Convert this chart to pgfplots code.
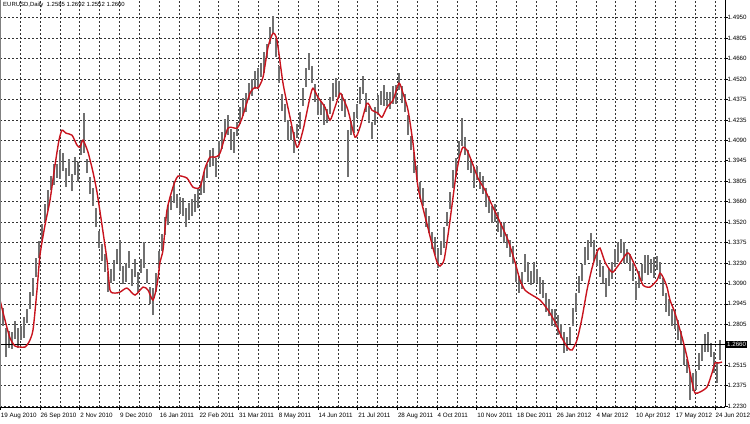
\documentclass[border=0pt]{standalone}
\usepackage{pgfplots}
\pgfplotsset{compat=1.18}
\usepackage{pgfplotstable}
\usepackage{fontspec}
\setmainfont{Liberation Sans}
\definecolor{barcol}{RGB}{112,112,112}
\definecolor{macol}{RGB}{200,20,30}
\pgfplotstableread{
x lo hi
0 1.2874 1.2993
3 1.2790 1.2916
6 1.2573 1.2776
9 1.2636 1.2755
12 1.2629 1.2748
15 1.2699 1.2825
18 1.2636 1.2776
21 1.2692 1.2790
24 1.2706 1.2853
27 1.2811 1.2909
30 1.2909 1.3028
33 1.3000 1.3126
36 1.3133 1.3266
39 1.3266 1.3385
42 1.3385 1.3504
45 1.3518 1.3644
48 1.3602 1.3742
51 1.3742 1.3840
54 1.3777 1.3924
57 1.3826 1.3924
60 1.3819 1.4022
63 1.3875 1.4001
66 1.3763 1.3896
69 1.3840 1.3959
72 1.3735 1.3854
75 1.3847 1.3973
78 1.3798 1.3938
81 1.3987 1.4085
84 1.4001 1.4281
87 1.3861 1.3959
90 1.3714 1.3833
93 1.3630 1.3756
96 1.3483 1.3616
99 1.3336 1.3455
102 1.3245 1.3364
105 1.3168 1.3294
108 1.3028 1.3168
111 1.3091 1.3189
114 1.3105 1.3252
117 1.3231 1.3329
120 1.3175 1.3392
123 1.3084 1.3210
126 1.3098 1.3231
129 1.3196 1.3315
132 1.3070 1.3189
135 1.3133 1.3259
138 1.3028 1.3168
141 1.3161 1.3259
144 1.3196 1.3378
147 1.3091 1.3189
150 1.2944 1.3063
153 1.2867 1.3056
156 1.3028 1.3161
159 1.3196 1.3315
162 1.3315 1.3434
165 1.3427 1.3553
168 1.3497 1.3637
171 1.3602 1.3700
174 1.3651 1.3798
177 1.3616 1.3714
180 1.3574 1.3693
183 1.3560 1.3686
186 1.3483 1.3616
189 1.3532 1.3651
192 1.3560 1.3679
195 1.3588 1.3714
198 1.3616 1.3756
201 1.3707 1.3805
204 1.3721 1.3868
207 1.3826 1.3924
210 1.3903 1.4022
213 1.3910 1.4036
216 1.3833 1.3966
219 1.3966 1.4085
222 1.4029 1.4148
225 1.4113 1.4239
228 1.4127 1.4267
231 1.4022 1.4169
234 1.4001 1.4148
237 1.4120 1.4218
240 1.4204 1.4323
243 1.4260 1.4386
246 1.4288 1.4421
249 1.4372 1.4491
252 1.4400 1.4519
255 1.4449 1.4575
258 1.4456 1.4596
261 1.4533 1.4631
264 1.4561 1.4708
267 1.4666 1.4764
270 1.4764 1.4883
273 1.4834 1.4960
276 1.4673 1.4806
279 1.4491 1.4610
282 1.4295 1.4414
285 1.4218 1.4344
288 1.4092 1.4232
291 1.4092 1.4190
294 1.4001 1.4148
297 1.4106 1.4204
300 1.4169 1.4288
303 1.4330 1.4456
306 1.4463 1.4596
309 1.4582 1.4701
312 1.4491 1.4610
315 1.4358 1.4484
318 1.4267 1.4407
321 1.4267 1.4365
324 1.4197 1.4344
327 1.4211 1.4309
330 1.4274 1.4393
333 1.4365 1.4491
336 1.4393 1.4526
339 1.4386 1.4505
342 1.4295 1.4414
345 1.4253 1.4379
348 1.3833 1.4162
351 1.4127 1.4225
354 1.4141 1.4288
357 1.4246 1.4344
360 1.4344 1.4463
363 1.4414 1.4540
366 1.4288 1.4421
369 1.4211 1.4330
372 1.4099 1.4218
375 1.4197 1.4323
378 1.4267 1.4407
381 1.4337 1.4435
384 1.4330 1.4477
387 1.4330 1.4428
390 1.4309 1.4428
393 1.4344 1.4470
396 1.4344 1.4477
399 1.4442 1.4561
402 1.4351 1.4470
405 1.4288 1.4414
408 1.4127 1.4267
411 1.4022 1.4120
414 1.3861 1.4008
417 1.3812 1.3910
420 1.3679 1.3798
423 1.3630 1.3756
426 1.3483 1.3616
429 1.3441 1.3560
432 1.3329 1.3448
435 1.3287 1.3413
438 1.3196 1.3336
441 1.3287 1.3385
444 1.3336 1.3483
447 1.3490 1.3588
450 1.3609 1.3728
453 1.3756 1.3882
456 1.3833 1.3966
459 1.3966 1.4085
462 1.4050 1.4246
465 1.3987 1.4113
468 1.3882 1.4022
471 1.3861 1.3959
474 1.3756 1.3903
477 1.3812 1.3910
480 1.3749 1.3868
483 1.3714 1.3840
486 1.3623 1.3756
489 1.3581 1.3700
492 1.3511 1.3630
495 1.3518 1.3644
498 1.3448 1.3588
501 1.3413 1.3511
504 1.3371 1.3518
507 1.3336 1.3434
510 1.3273 1.3392
513 1.3224 1.3350
516 1.3098 1.3231
519 1.3021 1.3140
522 1.3049 1.3168
525 1.3168 1.3294
528 1.3098 1.3238
531 1.3077 1.3175
534 1.3091 1.3238
537 1.3091 1.3189
540 1.3014 1.3133
543 1.2986 1.3112
546 1.2888 1.3021
549 1.2860 1.2979
552 1.2790 1.2909
555 1.2783 1.2909
558 1.2727 1.2867
561 1.2706 1.2804
564 1.2601 1.2748
567 1.2615 1.2713
570 1.2664 1.2783
573 1.2790 1.2916
576 1.2888 1.3021
579 1.3021 1.3140
582 1.3105 1.3224
585 1.3217 1.3343
588 1.3252 1.3392
591 1.3343 1.3441
594 1.3245 1.3392
597 1.3210 1.3308
600 1.3133 1.3252
603 1.3084 1.3210
606 1.2993 1.3126
609 1.3070 1.3189
612 1.3119 1.3238
615 1.3203 1.3329
618 1.3238 1.3378
621 1.3301 1.3399
624 1.3231 1.3378
627 1.3231 1.3329
630 1.3175 1.3294
633 1.3105 1.3231
636 1.2972 1.3105
639 1.3056 1.3175
642 1.3105 1.3224
645 1.3161 1.3287
648 1.3147 1.3287
651 1.3161 1.3259
654 1.3126 1.3273
657 1.3182 1.3280
660 1.3119 1.3238
663 1.3000 1.3126
666 1.2888 1.3021
669 1.2860 1.2979
672 1.2790 1.2909
675 1.2769 1.2895
678 1.2692 1.2832
681 1.2657 1.2755
684 1.2517 1.2664
687 1.2461 1.2559
690 1.2272 1.2468
693 1.2335 1.2461
696 1.2342 1.2475
699 1.2482 1.2601
702 1.2545 1.2664
705 1.2608 1.2734
708 1.2608 1.2748
711 1.2573 1.2671
714 1.2461 1.2608
717 1.2391 1.2538
720 1.2552 1.2692
}\bars
\pgfplotstableread{
x ma
0 1.2972
5 1.2832
10 1.2706
15 1.2650
20 1.2643
25 1.2643
29 1.2678
33 1.2762
37 1.3042
40 1.3287
45 1.3497
50 1.3672
55 1.3917
59 1.4092
62 1.4162
66 1.4141
72 1.4127
77 1.4057
80 1.4043
83 1.4092
88 1.4008
93 1.3868
97 1.3728
102 1.3497
107 1.3252
110 1.3042
115 1.3021
120 1.3028
127 1.3056
135 1.3007
143 1.3063
148 1.3042
153 1.2972
157 1.3077
160 1.3238
163 1.3322
167 1.3602
173 1.3763
178 1.3840
187 1.3826
193 1.3763
200 1.3763
205 1.3896
210 1.3973
215 1.3973
220 1.4001
228 1.4176
237 1.4176
242 1.4246
250 1.4421
255 1.4463
258 1.4456
263 1.4533
268 1.4743
273 1.4841
277 1.4792
283 1.4491
290 1.4253
297 1.4043
303 1.4162
310 1.4393
313 1.4456
318 1.4393
325 1.4323
330 1.4232
335 1.4323
340 1.4421
343 1.4386
348 1.4302
355 1.4113
360 1.4183
367 1.4351
372 1.4302
378 1.4281
382 1.4253
387 1.4323
393 1.4372
399 1.4491
403 1.4421
408 1.4302
413 1.4071
418 1.3763
423 1.3616
428 1.3476
433 1.3336
437 1.3238
440 1.3210
444 1.3252
448 1.3427
452 1.3637
456 1.3847
460 1.3987
463 1.4043
467 1.4022
472 1.3938
478 1.3826
485 1.3742
492 1.3637
500 1.3518
508 1.3392
515 1.3238
520 1.3112
525 1.3042
532 1.3007
540 1.2972
548 1.2902
555 1.2818
562 1.2706
568 1.2636
572 1.2622
577 1.2692
582 1.2846
587 1.3042
592 1.3196
597 1.3308
600 1.3336
605 1.3238
610 1.3182
613 1.3168
620 1.3231
627 1.3301
630 1.3287
637 1.3182
643 1.3077
650 1.3063
657 1.3112
660 1.3161
663 1.3133
667 1.3063
670 1.2972
675 1.2881
682 1.2713
687 1.2573
692 1.2398
695 1.2321
700 1.2328
707 1.2363
712 1.2461
715 1.2531
718 1.2531
722 1.2538
}\ma
\begin{document}
\begin{tikzpicture}
\useasboundingbox (0,0) rectangle (750bp,424bp);
\begin{axis}[
  at={(0bp,17bp)}, anchor=south west,
  scale only axis, width=725bp, height=407bp,
  xmin=0, xmax=725, ymin=1.2223, ymax=1.5074,
  clip=true,
  axis x line*=bottom, axis y line*=right,
  axis line style={-, black, line width=0.8bp},
  tick align=outside, major tick length=3bp, minor tick length=0bp,
  tick style={black, line width=0.6bp},
  xtick={0.3,40,79.7,119.4,159.1,198.8,238.5,278.2,317.9,357.6,397.3,437,476.7,516.4,556.1,595.8,635.5,675.2,714.9},
  xticklabels={19 Aug 2010,26 Sep 2010,2 Nov 2010,9 Dec 2010,16 Jan 2011,22 Feb 2011,31 Mar 2011,8 May 2011,14 Jun 2011,21 Jul 2011,28 Aug 2011,4 Oct 2011,10 Nov 2011,18 Dec 2011,26 Jan 2012,4 Mar 2012,10 Apr 2012,17 May 2012,24 Jun 2012},
  minor x tick num=1,
  ytick={1.2230,1.23732,1.25163,1.26595,1.28026,1.29458,1.30889,1.32321,1.33753,1.35184,1.36616,1.38047,1.39479,1.40911,1.42342,1.43774,1.45205,1.46637,1.48068,1.4950},
  yticklabels={1.2230,1.2375,1.2515,,1.2805,1.2945,1.3090,1.3230,1.3375,1.3520,1.3660,1.3805,1.3945,1.4090,1.4235,1.4375,1.4520,1.4660,1.4805,1.4950},
  xticklabel style={font=\fontsize{6.3}{7}\selectfont, anchor=north west, inner sep=0pt, xshift=0.5bp, yshift=-2.5bp},
  yticklabel style={font=\fontsize{6.2}{7}\selectfont, anchor=west, inner sep=0pt, xshift=-0.5bp},
  grid=both,
  major grid style={black!80, line width=0.5bp, dash pattern=on 2bp off 2bp},
  minor grid style={black!80, line width=0.5bp, dash pattern=on 2bp off 2bp},
]
\addplot[draw=none, mark=none, forget plot,
  error bars/.cd, y dir=plus, y explicit, error mark=none,
  error bar style={barcol, line width=2.3bp}]
  table[x=x, y=lo, y error expr=\thisrow{hi}-\thisrow{lo}] {\bars};
\addplot[black, line width=0.8bp, forget plot] coordinates {(0,1.2660) (725,1.2660)};
\addplot[macol, line width=1.4bp, smooth, tension=0.4, forget plot] table[x=x, y=ma] {\ma};
\end{axis}
\draw[gray, line width=0.8bp] (0.4bp,17bp) -- (0.4bp,424bp);
\node[fill=black, text=white, anchor=west, inner sep=1bp, font=\fontsize{6.2}{7}\selectfont] at (726bp,{17bp+407bp*(1.2660-1.2223)/(1.5074-1.2223)}) {1.2660};
\node[anchor=north west, inner sep=0pt, font=\fontsize{6}{7}\selectfont] at (3bp,422.5bp) {EURUSD,Daily\ \ 1.2585 1.2692 1.2552 1.2660};
\end{tikzpicture}
\end{document}
